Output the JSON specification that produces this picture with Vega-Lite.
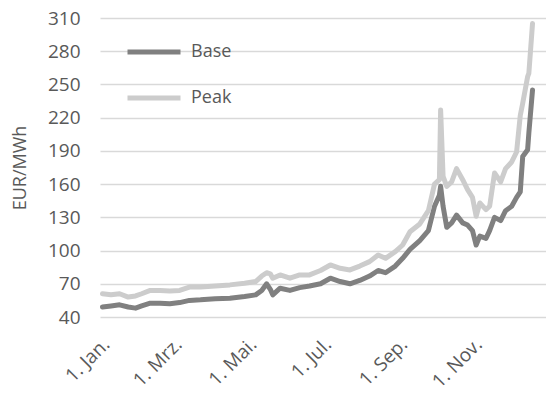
{
  "$schema": "https://vega.github.io/schema/vega-lite/v6.json",
  "width": 446,
  "height": 299,
  "autosize": "none",
  "padding": {"left": 100, "top": 18, "right": 0, "bottom": 80},
  "background": "white",
  "config": {
    "font": "Open Sans",
    "view": {"stroke": null},
    "axis": {"labelFont": "Open Sans", "titleFont": "Open Sans", "labelColor": "#595959", "titleColor": "#595959"}
  },
  "data": {
    "values": [
      {"date": "2021-01-03", "series": "Base", "value": 49}, {"date": "2021-01-03", "series": "Peak", "value": 61},
      {"date": "2021-01-10", "series": "Base", "value": 50}, {"date": "2021-01-10", "series": "Peak", "value": 60},
      {"date": "2021-01-17", "series": "Base", "value": 51}, {"date": "2021-01-17", "series": "Peak", "value": 61},
      {"date": "2021-01-24", "series": "Base", "value": 49}, {"date": "2021-01-24", "series": "Peak", "value": 58},
      {"date": "2021-01-30", "series": "Base", "value": 48}, {"date": "2021-01-30", "series": "Peak", "value": 59},
      {"date": "2021-02-04", "series": "Base", "value": 50}, {"date": "2021-02-04", "series": "Peak", "value": 61},
      {"date": "2021-02-11", "series": "Base", "value": 52.5}, {"date": "2021-02-11", "series": "Peak", "value": 64},
      {"date": "2021-02-19", "series": "Base", "value": 52.5}, {"date": "2021-02-19", "series": "Peak", "value": 64},
      {"date": "2021-02-27", "series": "Base", "value": 52}, {"date": "2021-02-27", "series": "Peak", "value": 63.5},
      {"date": "2021-03-07", "series": "Base", "value": 53}, {"date": "2021-03-07", "series": "Peak", "value": 64},
      {"date": "2021-03-15", "series": "Base", "value": 55}, {"date": "2021-03-15", "series": "Peak", "value": 67},
      {"date": "2021-03-24", "series": "Base", "value": 55.5}, {"date": "2021-03-24", "series": "Peak", "value": 67},
      {"date": "2021-04-05", "series": "Base", "value": 56.5}, {"date": "2021-04-05", "series": "Peak", "value": 68},
      {"date": "2021-04-17", "series": "Base", "value": 57}, {"date": "2021-04-17", "series": "Peak", "value": 69},
      {"date": "2021-04-29", "series": "Base", "value": 58.5}, {"date": "2021-04-29", "series": "Peak", "value": 70.5},
      {"date": "2021-05-08", "series": "Base", "value": 60}, {"date": "2021-05-08", "series": "Peak", "value": 72},
      {"date": "2021-05-13", "series": "Base", "value": 64}, {"date": "2021-05-13", "series": "Peak", "value": 77},
      {"date": "2021-05-17", "series": "Base", "value": 70}, {"date": "2021-05-17", "series": "Peak", "value": 80},
      {"date": "2021-05-20", "series": "Base", "value": 65}, {"date": "2021-05-20", "series": "Peak", "value": 79},
      {"date": "2021-05-22", "series": "Base", "value": 60}, {"date": "2021-05-22", "series": "Peak", "value": 75},
      {"date": "2021-05-28", "series": "Base", "value": 66}, {"date": "2021-05-28", "series": "Peak", "value": 78},
      {"date": "2021-06-05", "series": "Base", "value": 64}, {"date": "2021-06-05", "series": "Peak", "value": 75},
      {"date": "2021-06-13", "series": "Base", "value": 66.5}, {"date": "2021-06-13", "series": "Peak", "value": 78},
      {"date": "2021-06-21", "series": "Base", "value": 68}, {"date": "2021-06-21", "series": "Peak", "value": 78},
      {"date": "2021-06-30", "series": "Base", "value": 70}, {"date": "2021-06-30", "series": "Peak", "value": 82},
      {"date": "2021-07-08", "series": "Base", "value": 75}, {"date": "2021-07-08", "series": "Peak", "value": 87},
      {"date": "2021-07-16", "series": "Base", "value": 72}, {"date": "2021-07-16", "series": "Peak", "value": 84},
      {"date": "2021-07-24", "series": "Base", "value": 70}, {"date": "2021-07-24", "series": "Peak", "value": 82.5},
      {"date": "2021-08-01", "series": "Base", "value": 73}, {"date": "2021-08-01", "series": "Peak", "value": 86},
      {"date": "2021-08-09", "series": "Base", "value": 77}, {"date": "2021-08-09", "series": "Peak", "value": 90},
      {"date": "2021-08-16", "series": "Base", "value": 82}, {"date": "2021-08-16", "series": "Peak", "value": 96},
      {"date": "2021-08-22", "series": "Base", "value": 80}, {"date": "2021-08-22", "series": "Peak", "value": 93},
      {"date": "2021-08-30", "series": "Base", "value": 86}, {"date": "2021-08-30", "series": "Peak", "value": 99},
      {"date": "2021-09-05", "series": "Base", "value": 93}, {"date": "2021-09-05", "series": "Peak", "value": 105},
      {"date": "2021-09-11", "series": "Base", "value": 101}, {"date": "2021-09-11", "series": "Peak", "value": 117},
      {"date": "2021-09-19", "series": "Base", "value": 109}, {"date": "2021-09-19", "series": "Peak", "value": 124},
      {"date": "2021-09-26", "series": "Base", "value": 118}, {"date": "2021-09-26", "series": "Peak", "value": 136},
      {"date": "2021-10-01", "series": "Base", "value": 140}, {"date": "2021-10-01", "series": "Peak", "value": 160},
      {"date": "2021-10-05", "series": "Base", "value": 150}, {"date": "2021-10-05", "series": "Peak", "value": 164},
      {"date": "2021-10-06", "series": "Base", "value": 158}, {"date": "2021-10-06", "series": "Peak", "value": 227},
      {"date": "2021-10-08", "series": "Base", "value": 140}, {"date": "2021-10-08", "series": "Peak", "value": 167},
      {"date": "2021-10-11", "series": "Base", "value": 121}, {"date": "2021-10-11", "series": "Peak", "value": 158},
      {"date": "2021-10-15", "series": "Base", "value": 125}, {"date": "2021-10-15", "series": "Peak", "value": 162},
      {"date": "2021-10-19", "series": "Base", "value": 132}, {"date": "2021-10-19", "series": "Peak", "value": 174},
      {"date": "2021-10-24", "series": "Base", "value": 125}, {"date": "2021-10-24", "series": "Peak", "value": 164},
      {"date": "2021-10-28", "series": "Base", "value": 123}, {"date": "2021-10-28", "series": "Peak", "value": 155},
      {"date": "2021-11-01", "series": "Base", "value": 118}, {"date": "2021-11-01", "series": "Peak", "value": 148},
      {"date": "2021-11-04", "series": "Base", "value": 105}, {"date": "2021-11-04", "series": "Peak", "value": 131},
      {"date": "2021-11-07", "series": "Base", "value": 113}, {"date": "2021-11-07", "series": "Peak", "value": 143},
      {"date": "2021-11-12", "series": "Base", "value": 111}, {"date": "2021-11-12", "series": "Peak", "value": 137},
      {"date": "2021-11-15", "series": "Base", "value": 118}, {"date": "2021-11-15", "series": "Peak", "value": 140},
      {"date": "2021-11-19", "series": "Base", "value": 130}, {"date": "2021-11-19", "series": "Peak", "value": 170},
      {"date": "2021-11-24", "series": "Base", "value": 127}, {"date": "2021-11-24", "series": "Peak", "value": 162},
      {"date": "2021-11-28", "series": "Base", "value": 136}, {"date": "2021-11-28", "series": "Peak", "value": 174},
      {"date": "2021-12-03", "series": "Base", "value": 140}, {"date": "2021-12-03", "series": "Peak", "value": 180},
      {"date": "2021-12-07", "series": "Base", "value": 148}, {"date": "2021-12-07", "series": "Peak", "value": 189},
      {"date": "2021-12-10", "series": "Base", "value": 153}, {"date": "2021-12-10", "series": "Peak", "value": 222},
      {"date": "2021-12-12", "series": "Base", "value": 185}, {"date": "2021-12-12", "series": "Peak", "value": 233},
      {"date": "2021-12-16", "series": "Base", "value": 191}, {"date": "2021-12-16", "series": "Peak", "value": 257},
      {"date": "2021-12-17", "series": "Base", "value": 206}, {"date": "2021-12-17", "series": "Peak", "value": 260},
      {"date": "2021-12-20", "series": "Base", "value": 245}, {"date": "2021-12-20", "series": "Peak", "value": 305}
    ]
  },
  "mark": {"type": "line", "strokeWidth": 5, "strokeCap": "round", "strokeJoin": "round"},
  "encoding": {
    "x": {
      "field": "date",
      "type": "temporal",
      "scale": {"type": "utc", "domain": [{"year": 2021, "month": 1, "date": 1, "utc": true}, {"year": 2021, "month": 12, "date": 31, "utc": true}]},
      "axis": {
        "title": null,
        "grid": false,
        "domain": false,
        "ticks": false,
        "labelAngle": -45,
        "labelAlign": "right",
        "labelBaseline": "middle",
        "labelFontSize": 19,
        "labelPadding": 24,
        "labelOffset": 6,
        "labelOverlap": false,
        "labelBound": false,
        "labelFlush": false,
        "values": [
          {"year": 2021, "month": 1, "date": 1, "utc": true},
          {"year": 2021, "month": 3, "date": 1, "utc": true},
          {"year": 2021, "month": 5, "date": 1, "utc": true},
          {"year": 2021, "month": 7, "date": 1, "utc": true},
          {"year": 2021, "month": 9, "date": 1, "utc": true},
          {"year": 2021, "month": 11, "date": 1, "utc": true}
        ],
        "labelExpr": "'1. ' + ['Jan.','Feb.','Mrz.','Apr.','Mai.','Jun.','Jul.','Aug.','Sep.','Okt.','Nov.','Dez.'][utcmonth(datum.value)]"
      }
    },
    "y": {
      "field": "value",
      "type": "quantitative",
      "scale": {"domain": [40, 310], "nice": false, "zero": false},
      "axis": {
        "title": "EUR/MWh",
        "titleFontSize": 18,
        "titleFontWeight": "normal",
        "titlePadding": 18,
        "values": [40, 70, 100, 130, 160, 190, 220, 250, 280, 310],
        "labelFontSize": 19,
        "labelPadding": 20,
        "domain": false,
        "ticks": false,
        "gridColor": "#d9d9d9",
        "gridWidth": 1.5
      }
    },
    "color": {
      "field": "series",
      "type": "nominal",
      "scale": {"domain": ["Base", "Peak"], "range": ["#808080", "#cccccc"]},
      "legend": {
        "title": null,
        "orient": "none",
        "legendX": 25,
        "legendY": 5,
        "direction": "vertical",
        "symbolType": "stroke",
        "symbolStrokeWidth": 5,
        "symbolSize": 2809,
        "labelFontSize": 18,
        "labelColor": "#595959",
        "labelOffset": 8,
        "rowPadding": 7
      }
    }
  }
}
